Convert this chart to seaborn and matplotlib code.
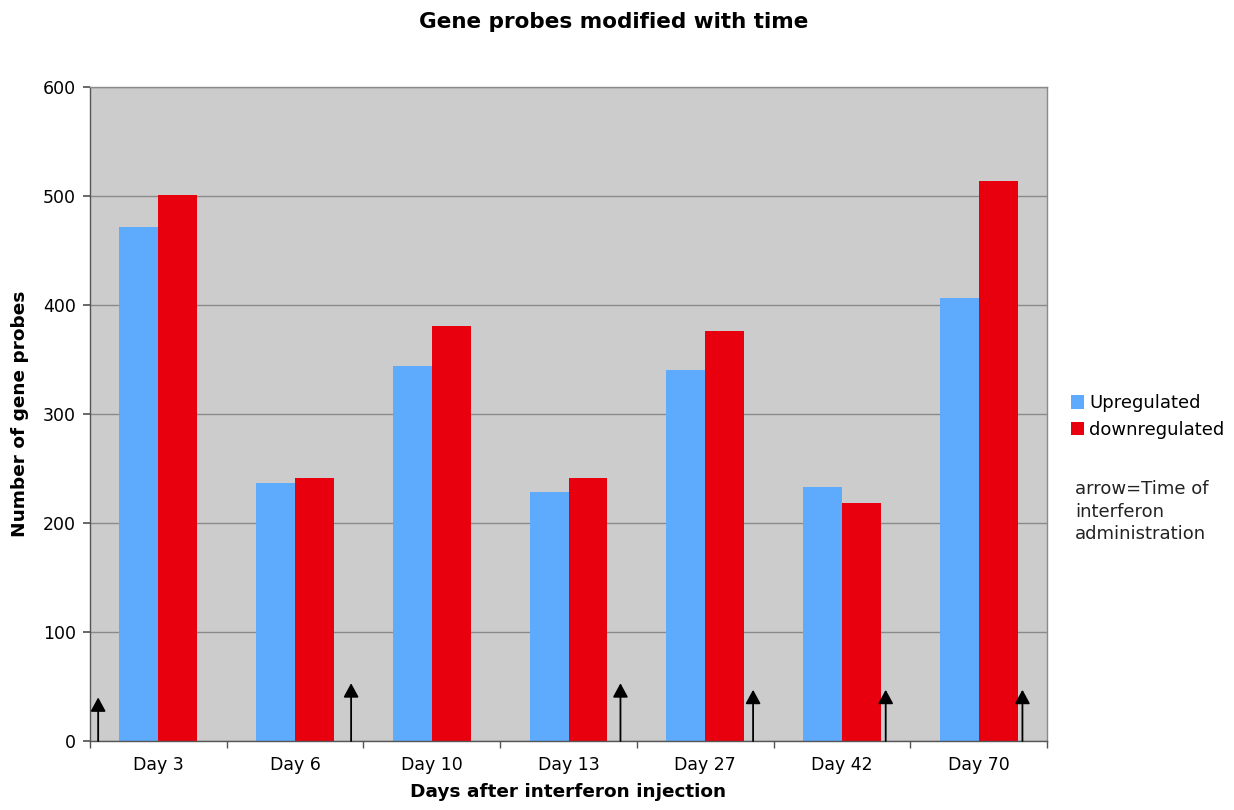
import matplotlib
matplotlib.use("Agg")
import matplotlib.pyplot as plt
from matplotlib.ticker import FixedLocator
from matplotlib.patches import Patch
import seaborn as sns
import pandas as pd

days = ["Day 3", "Day 6", "Day 10", "Day 13", "Day 27", "Day 42", "Day 70"]
upregulated = [472, 237, 344, 228, 340, 233, 406]
downregulated = [501, 241, 381, 241, 376, 218, 514]
series_names = ["Upregulated", "downregulated"]
# arrows: position along category axis and tip height
arrow_x = [-0.44, 1.41, 3.38, 4.35, 5.32, 6.32]
arrow_tip = [40, 53, 53, 47, 47, 47]

df = pd.DataFrame({
    "day": days * 2,
    "series": [series_names[0]] * len(days) + [series_names[1]] * len(days),
    "value": upregulated + downregulated,
})

sns.set_theme(style="white")
plt.rcParams["font.family"] = ["DejaVu Sans"]
plt.rcParams["text.color"] = "black"
plt.rcParams["axes.labelcolor"] = "black"
plt.rcParams["xtick.color"] = "black"
plt.rcParams["ytick.color"] = "black"

fig = plt.figure(figsize=(12.34, 8.10), dpi=100)
ax = fig.add_axes([0.0729, 0.0852, 0.7756, 0.8074])
ax.set_facecolor("#cccccc")

palette = {"Upregulated": "#5eaafd", "downregulated": "#e8000f"}
sns.barplot(data=df, x="day", y="value", hue="series", order=days,
            hue_order=series_names, palette=palette, width=0.57, gap=0,
            saturation=1, ax=ax, legend=False, linewidth=0)

ax.set_ylim(0, 600)
ax.set_xlim(-0.5, len(days) - 0.5)
ax.set_yticks(range(0, 601, 100))
ax.yaxis.grid(True, color="#8a8a8a", linewidth=1)
ax.set_axisbelow(True)
for s in ax.spines.values():
    s.set_color("#8a8a8a")
    s.set_linewidth(1)
ax.spines["bottom"].set_color("#555555")
ax.spines["left"].set_color("#555555")

ax.tick_params(axis="x", which="major", length=0, labelsize=12.5, pad=11)
ax.xaxis.set_minor_locator(FixedLocator([i - 0.5 for i in range(len(days) + 1)]))
ax.tick_params(axis="x", which="minor", length=5, color="#555555", direction="out", bottom=True)
ax.tick_params(axis="y", which="major", length=5, color="#555555", direction="out",
               labelsize=12.5, left=True, pad=5)

ax.set_xlabel("Days after interferon injection", fontsize=13.3, fontweight="bold", labelpad=6)
ax.set_ylabel("Number of gene probes", fontsize=13.3, fontweight="bold", labelpad=10)
fig.text(0.4976, 0.973, "Gene probes modified with time", ha="center", va="center",
         fontsize=15.5, fontweight="bold")

for xa, tip in zip(arrow_x, arrow_tip):
    ax.annotate("", xy=(xa, tip), xytext=(xa, 0),
                arrowprops=dict(arrowstyle="-|>,head_length=0.7,head_width=0.38",
                                color="black", lw=1.3, shrinkA=0, shrinkB=0))

# legend
handles = [Patch(facecolor=palette[n], edgecolor="none") for n in series_names]
fig.legend(handles, series_names, loc="upper left", bbox_to_anchor=(0.862, 0.522),
           frameon=False, fontsize=13, handlelength=0.75, handleheight=0.75,
           handletextpad=0.25, labelspacing=0.45, borderaxespad=0)
fig.text(0.871, 0.407, "arrow=Time of\ninterferon\nadministration", ha="left", va="top",
         fontsize=13, color="#222222", linespacing=1.32)

fig.savefig("out.png", dpi=100)
